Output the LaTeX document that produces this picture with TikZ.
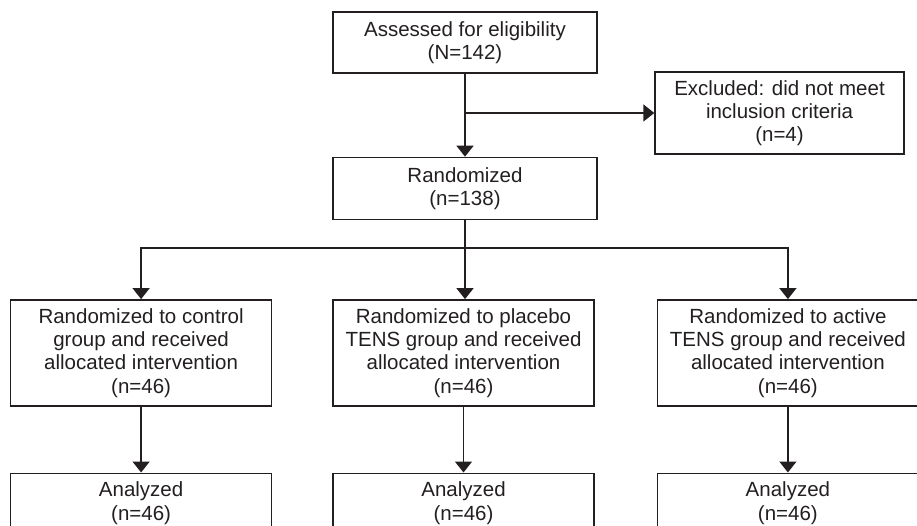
\documentclass[tikz,border=0pt]{standalone}
\usepackage{fontspec}
\setmainfont{Liberation Sans}
\usetikzlibrary{arrows.meta}
\usetikzlibrary{positioning}

\definecolor{ink}{HTML}{231F20}

\begin{document}
\begin{tikzpicture}[x=1pt, y=-1pt, >={Triangle[width=17pt,length=11pt]},
    line width=1.6pt, draw=ink, text=ink,
    every node/.style={font=\fontsize{20.5}{23.3}\selectfont, align=center,
                       line width=1.4pt, inner sep=2pt},
    box/.style={draw, minimum width=261pt}]
      \clip (0,0) rectangle (917,526);

      \node[box, minimum width=264pt, minimum height=61pt] (assess) at (465,42.5)
           {Assessed for eligibility\\(N=142)};
      \node[box, minimum width=249pt, minimum height=82pt] (excluded) at (779.5,113)
           {Excluded: did not meet\\inclusion criteria\\(n=4)};
      \node[box, minimum width=264pt, minimum height=62pt, below=83pt of assess] (rand)
           {Randomized\\(n=138)};

      \node[box, minimum height=106pt, below=79pt of rand, xshift=-1.5pt] (placebo)
           {Randomized to placebo\\TENS group and received\\allocated intervention\\(n=46)};
      \node[box, minimum height=106pt, left=60pt of placebo] (control)
           {Randomized to control\\group and received\\allocated intervention\\(n=46)};
      \node[box, minimum height=106pt, right=62pt of placebo] (active)
           {Randomized to active\\TENS group and received\\allocated intervention\\(n=46)};

      \node[box, minimum height=60pt, below=66pt of control] (control-an)
           {Analyzed\\(n=46)};
      \node[box, minimum height=60pt, below=66pt of placebo] (placebo-an)
           {Analyzed\\(n=46)};
      \node[box, minimum height=60pt, below=66pt of active] (active-an)
           {Analyzed\\(n=46)};

      \draw[->] (assess) -- (rand);
      \draw[->] (assess |- excluded.west) -- (excluded.west);

      \path (rand.south) ++(0,28) coordinate (split);
      \draw[->] (rand.south) -- (rand.south |- placebo.north);
      \draw[->] (split) -| (control);
      \draw[->] (split) -| (active);

      \draw[->] (control) -- (control-an);
      \draw[->] (placebo) -- (placebo-an);
      \draw[->] (active) -- (active-an);
    \end{tikzpicture}
\end{document}
